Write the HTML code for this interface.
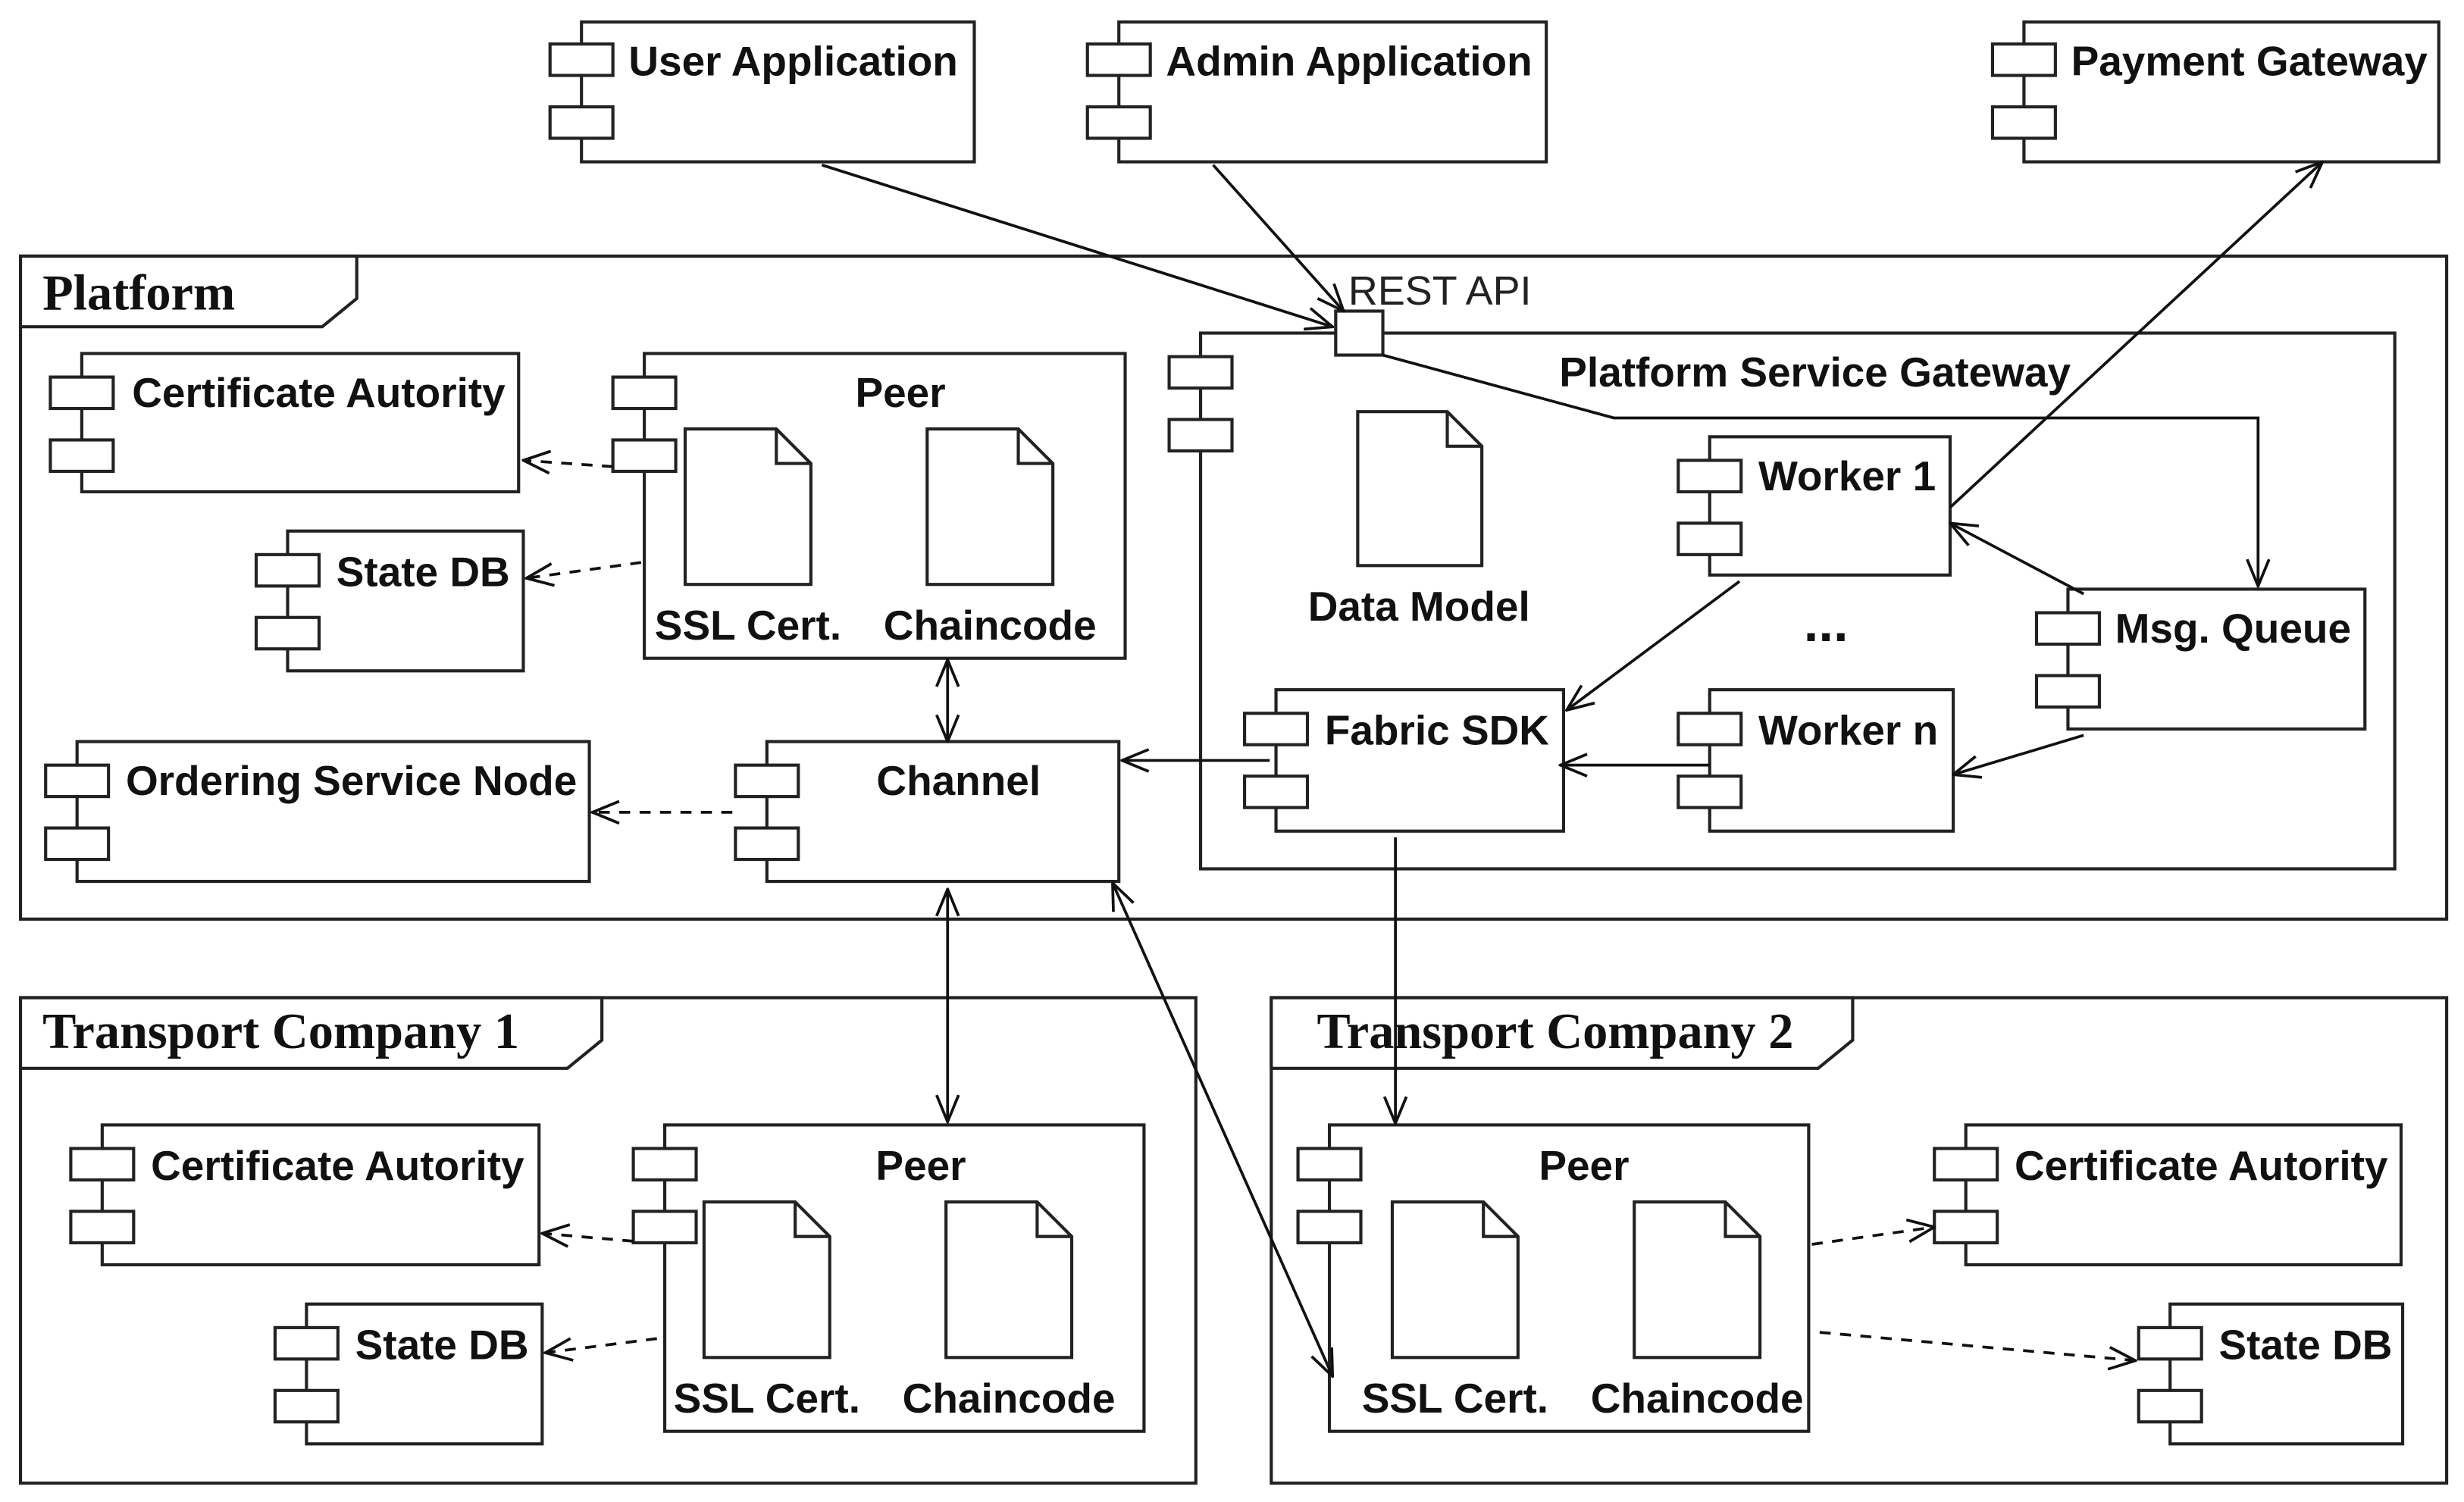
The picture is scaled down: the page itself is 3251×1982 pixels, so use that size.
<!DOCTYPE html>
<html><head><meta charset="utf-8"><style>
html,body{margin:0;padding:0;background:#fff;}
svg{display:block;}
.b{fill:#fff;stroke:#222;stroke-width:2;}
.t{font-family:"Liberation Sans",sans-serif;font-weight:bold;font-size:26.5px;fill:#111;}
.p{font-family:"Liberation Serif",serif;font-weight:bold;font-size:32px;fill:#111;}
.l{stroke:#111;stroke-width:1.8;fill:none;}
.d{stroke:#111;stroke-width:1.8;fill:none;stroke-dasharray:7,6;}
</style></head><body>
<svg width="3251" height="1982" viewBox="0 0 1568 956" xmlns="http://www.w3.org/2000/svg">
<defs>
<marker id="a" viewBox="0 0 20 20" refX="19" refY="10" markerWidth="20" markerHeight="20" markerUnits="userSpaceOnUse" orient="auto-start-reverse">
<path d="M2,3 L19,10 L2,17" fill="none" stroke="#111" stroke-width="1.8"/></marker>
</defs>
<rect width="1568" height="956" fill="#fff"/>

<g>
<rect class="b" x="370" y="14" width="250" height="89"/><rect class="b" x="350" y="28" width="40" height="20"/><rect class="b" x="350" y="68" width="40" height="20"/>
<text class="t" x="400" y="48">User Application</text>
<rect class="b" x="712" y="14" width="272" height="89"/><rect class="b" x="692" y="28" width="40" height="20"/><rect class="b" x="692" y="68" width="40" height="20"/>
<text class="t" x="742" y="48">Admin Application</text>
<rect class="b" x="1288" y="14" width="264" height="89"/><rect class="b" x="1268" y="28" width="40" height="20"/><rect class="b" x="1268" y="68" width="40" height="20"/>
<text class="t" x="1318" y="48">Payment Gateway</text>
</g>

<rect class="b" x="13" y="163" width="1544" height="422"/>
<path class="b" d="M13,163 H227 V190 L205,208 H13 Z"/>
<text class="p" x="27" y="197">Platform</text>

<rect class="b" x="52" y="225" width="278" height="88"/><rect class="b" x="32" y="240" width="40" height="20"/><rect class="b" x="32" y="280" width="40" height="20"/>
<text class="t" x="84" y="259">Certificate Autority</text>
<rect class="b" x="183" y="338" width="150" height="89"/><rect class="b" x="163" y="353" width="40" height="20"/><rect class="b" x="163" y="393" width="40" height="20"/>
<text class="t" x="214" y="373">State DB</text>
<rect class="b" x="49" y="472" width="326" height="89"/><rect class="b" x="29" y="487" width="40" height="20"/><rect class="b" x="29" y="527" width="40" height="20"/>
<text class="t" x="80" y="506">Ordering Service Node</text>

<rect class="b" x="410" y="225" width="306" height="194"/><rect class="b" x="390" y="240" width="40" height="20"/><rect class="b" x="390" y="280" width="40" height="20"/>
<text class="t" x="573" y="259" text-anchor="middle">Peer</text>
<path class="b" d="M436,273 H494 L516,295 V372 H436 Z M494,273 V295 H516"/>
<path class="b" d="M590,273 H648 L670,295 V372 H590 Z M648,273 V295 H670"/>
<text class="t" x="476" y="407" text-anchor="middle">SSL Cert.</text>
<text class="t" x="630" y="407" text-anchor="middle">Chaincode</text>

<rect class="b" x="488" y="472" width="224" height="89"/><rect class="b" x="468" y="487" width="40" height="20"/><rect class="b" x="468" y="527" width="40" height="20"/>
<text class="t" x="610" y="506" text-anchor="middle">Channel</text>

<rect class="b" x="764" y="212" width="760" height="341"/><rect class="b" x="744" y="227" width="40" height="20"/><rect class="b" x="744" y="267" width="40" height="20"/>
<text class="t" x="1155" y="246" text-anchor="middle">Platform Service Gateway</text>
<rect class="b" x="850" y="198" width="30" height="28"/>
<text x="858" y="194" style="font-family:'Liberation Sans',sans-serif;font-size:26px;fill:#222">REST API</text>
<path class="b" d="M864,262 H921 L943,284 V360 H864 Z M921,262 V284 H943"/>
<text class="t" x="903" y="395" text-anchor="middle">Data Model</text>

<rect class="b" x="1088" y="278" width="153" height="88"/><rect class="b" x="1068" y="293" width="40" height="20"/><rect class="b" x="1068" y="333" width="40" height="20"/>
<text class="t" x="1119" y="312">Worker 1</text>
<text class="t" x="1162" y="408" text-anchor="middle" style="font-size:34px">...</text>
<rect class="b" x="1316" y="375" width="189" height="89"/><rect class="b" x="1296" y="390" width="40" height="20"/><rect class="b" x="1296" y="430" width="40" height="20"/>
<text class="t" x="1346" y="409">Msg. Queue</text>
<rect class="b" x="812" y="439" width="183" height="90"/><rect class="b" x="792" y="454" width="40" height="20"/><rect class="b" x="792" y="494" width="40" height="20"/>
<text class="t" x="843" y="474">Fabric SDK</text>
<rect class="b" x="1088" y="439" width="155" height="90"/><rect class="b" x="1068" y="454" width="40" height="20"/><rect class="b" x="1068" y="494" width="40" height="20"/>
<text class="t" x="1119" y="474">Worker n</text>

<rect class="b" x="13" y="635" width="748" height="309"/>
<path class="b" d="M13,635 H383 V662 L361,680 H13 Z"/>
<text class="p" x="27" y="667">Transport Company 1</text>
<rect class="b" x="65" y="716" width="278" height="89"/><rect class="b" x="45" y="731" width="40" height="20"/><rect class="b" x="45" y="771" width="40" height="20"/>
<text class="t" x="96" y="751">Certificate Autority</text>
<rect class="b" x="195" y="830" width="150" height="89"/><rect class="b" x="175" y="845" width="40" height="20"/><rect class="b" x="175" y="885" width="40" height="20"/>
<text class="t" x="226" y="865">State DB</text>
<rect class="b" x="423" y="716" width="305" height="195"/><rect class="b" x="403" y="731" width="40" height="20"/><rect class="b" x="403" y="771" width="40" height="20"/>
<text class="t" x="586" y="751" text-anchor="middle">Peer</text>
<path class="b" d="M448,765 H506 L528,787 V864 H448 Z M506,765 V787 H528"/>
<path class="b" d="M602,765 H660 L682,787 V864 H602 Z M660,765 V787 H682"/>
<text class="t" x="488" y="899" text-anchor="middle">SSL Cert.</text>
<text class="t" x="642" y="899" text-anchor="middle">Chaincode</text>

<rect class="b" x="809" y="635" width="748" height="309"/>
<path class="b" d="M809,635 H1179 V662 L1157,680 H809 Z"/>
<text class="p" x="838" y="667">Transport Company 2</text>
<rect class="b" x="846" y="716" width="305" height="195"/><rect class="b" x="826" y="731" width="40" height="20"/><rect class="b" x="826" y="771" width="40" height="20"/>
<text class="t" x="1008" y="751" text-anchor="middle">Peer</text>
<path class="b" d="M886,765 H944 L966,787 V864 H886 Z M944,765 V787 H966"/>
<path class="b" d="M1040,765 H1098 L1120,787 V864 H1040 Z M1098,765 V787 H1120"/>
<text class="t" x="926" y="899" text-anchor="middle">SSL Cert.</text>
<text class="t" x="1080" y="899" text-anchor="middle">Chaincode</text>
<rect class="b" x="1251" y="716" width="277" height="89"/><rect class="b" x="1231" y="731" width="40" height="20"/><rect class="b" x="1231" y="771" width="40" height="20"/>
<text class="t" x="1282" y="751">Certificate Autority</text>
<rect class="b" x="1381" y="830" width="148" height="89"/><rect class="b" x="1361" y="845" width="40" height="20"/><rect class="b" x="1361" y="885" width="40" height="20"/>
<text class="t" x="1412" y="865">State DB</text>

<path class="l" d="M523,105 L848,208" marker-end="url(#a)"/>
<path class="l" d="M772,105 L855,198" marker-end="url(#a)"/>
<path class="l" d="M880,226 L1027,266 H1437 V373" marker-end="url(#a)"/>
<path class="l" d="M1241,323 L1478,103" marker-end="url(#a)"/>
<path class="l" d="M1326,378 L1241,333" marker-end="url(#a)"/>
<path class="l" d="M1326,468 L1243,493" marker-end="url(#a)"/>
<path class="l" d="M1107,370 L997,452" marker-end="url(#a)"/>
<path class="l" d="M1088,487 L993,487" marker-end="url(#a)"/>
<path class="l" d="M808,484 L714,484" marker-end="url(#a)"/>
<path class="l" d="M888,533 L888,715" marker-end="url(#a)"/>
<path class="l" d="M603,420 L603,472" marker-start="url(#a)" marker-end="url(#a)"/>
<path class="l" d="M603,566 L603,714" marker-start="url(#a)" marker-end="url(#a)"/>
<path class="l" d="M708,562 L848,876" marker-start="url(#a)" marker-end="url(#a)"/>

<path class="d" d="M390,297 L333,293" marker-end="url(#a)"/>
<path class="d" d="M408,358 L335,368" marker-end="url(#a)"/>
<path class="d" d="M466,517 L377,517" marker-end="url(#a)"/>
<path class="d" d="M403,790 L345,785" marker-end="url(#a)"/>
<path class="d" d="M418,852 L347,861" marker-end="url(#a)"/>
<path class="d" d="M1153,792 L1231,781" marker-end="url(#a)"/>
<path class="d" d="M1158,848 L1359,866" marker-end="url(#a)"/>
</svg>
</body></html>
